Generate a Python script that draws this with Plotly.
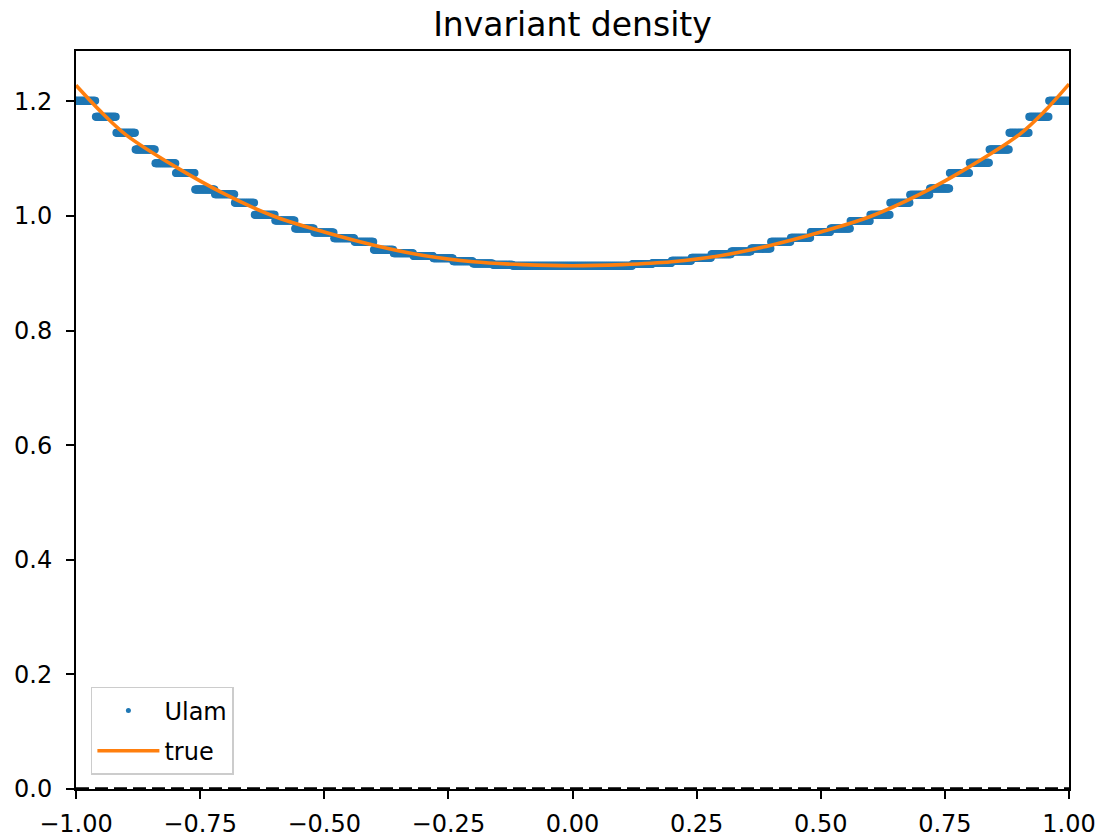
import numpy as np
import plotly.graph_objects as go

# Ulam approximation: density value on each of the 50 equal cells of [-1, 1]
ulam_cells = [
    1.201, 1.173, 1.145, 1.116, 1.092, 1.075, 1.046, 1.038, 1.023, 1.002,
    0.992, 0.978, 0.971, 0.961, 0.955, 0.941, 0.935, 0.930, 0.926, 0.921,
    0.917, 0.915, 0.913, 0.913, 0.913, 0.913, 0.913, 0.913, 0.916, 0.918,
    0.922, 0.927, 0.933, 0.938, 0.943, 0.955, 0.962, 0.972, 0.978, 0.991,
    1.002, 1.023, 1.037, 1.048, 1.075, 1.093, 1.116, 1.145, 1.173, 1.201,
]

# exact invariant density sampled along the interval
true_x = [-1.0, -0.95, -0.9, -0.8, -0.7, -0.6, -0.5, -0.4, -0.3, -0.2, -0.1, 0.0,
          0.1, 0.2, 0.3, 0.4, 0.5, 0.6, 0.7, 0.8, 0.9, 0.95, 1.0]
true_y = [1.228, 1.182, 1.142, 1.086, 1.038, 0.999, 0.972, 0.949, 0.931, 0.920, 0.915, 0.913,
          0.915, 0.920, 0.931, 0.949, 0.972, 0.999, 1.038, 1.086, 1.142, 1.182, 1.230]

x_ticks = [-1.0, -0.75, -0.5, -0.25, 0.0, 0.25, 0.5, 0.75, 1.0]
y_ticks = [0.0, 0.2, 0.4, 0.6, 0.8, 1.0, 1.2]

# evaluate the piecewise-constant Ulam density on a fine grid
n_cells = len(ulam_cells)
grid = np.linspace(-1.0, 1.0, 1500, endpoint=False)
cell_idx = np.clip(((grid + 1.0) / 2.0 * n_cells).astype(int), 0, n_cells - 1)
ulam_vals = np.asarray(ulam_cells)[cell_idx]

BLUE = "#1f77b4"
ORANGE = "#ff7f0e"
FONT = "DejaVu Sans"

fig = go.Figure()

fig.add_trace(go.Scatter(
    x=grid, y=ulam_vals, mode="markers",
    marker=dict(color=BLUE, size=8, line=dict(width=0)),
    showlegend=False, hoverinfo="skip",
))
# legend entry for the Ulam points (small dot)
fig.add_trace(go.Scatter(
    x=[None], y=[None], mode="markers", name="Ulam", legendgroup="a",
    marker=dict(color=BLUE, size=5),
))
fig.add_trace(go.Scatter(
    x=true_x, y=true_y, mode="lines", name="true", legendgroup="b",
    line=dict(color=ORANGE, width=3.6, shape="spline", smoothing=1.0),
))
# zero baseline
fig.add_trace(go.Scatter(
    x=[-1.0, 1.0], y=[0.0, 0.0], mode="lines", showlegend=False,
    line=dict(color="black", width=3.6, dash="13px,6px"),
    hoverinfo="skip",
))

def fmt(v, d):
    s = f"{abs(v):.{d}f}"
    return ("\u2212" + s) if v < 0 else s

axis_common = dict(
    showgrid=False, zeroline=False, automargin=False,
    showline=True, linecolor="black", linewidth=2, mirror=True,
    ticks="outside", ticklen=8, tickwidth=2, tickcolor="black",
    tickfont=dict(family=FONT, size=24, color="black"),
)

fig.update_xaxes(
    range=[-1.0, 1.0],
    tickmode="array", tickvals=x_ticks, ticktext=[fmt(v, 2) for v in x_ticks],
    ticklabelstandoff=4,
    **axis_common,
)
fig.update_yaxes(
    range=[0.0, 1.2878],
    tickmode="array", tickvals=y_ticks, ticktext=[fmt(v, 1) for v in y_ticks],
    ticklabelstandoff=9,
    **axis_common,
)

fig.update_layout(
    width=1104, height=839,
    margin=dict(l=76, r=35, t=51, b=50),
    paper_bgcolor="white", plot_bgcolor="white",
    title=dict(
        text="Invariant density", x=0.5, xanchor="center",
        xref="paper", y=1.0 - 24 / 839, yanchor="middle",
        font=dict(family=FONT, size=33, color="black"),
    ),
    font=dict(family=FONT, color="black"),
    legend=dict(
        x=0.015, y=0.019, xanchor="left", yanchor="bottom",
        bgcolor="rgba(255,255,255,0.8)", bordercolor="#cccccc", borderwidth=1.5,
        font=dict(family=FONT, size=24, color="black"),
        itemwidth=62, tracegroupgap=6,
    ),
)

fig.write_html("out.html")
